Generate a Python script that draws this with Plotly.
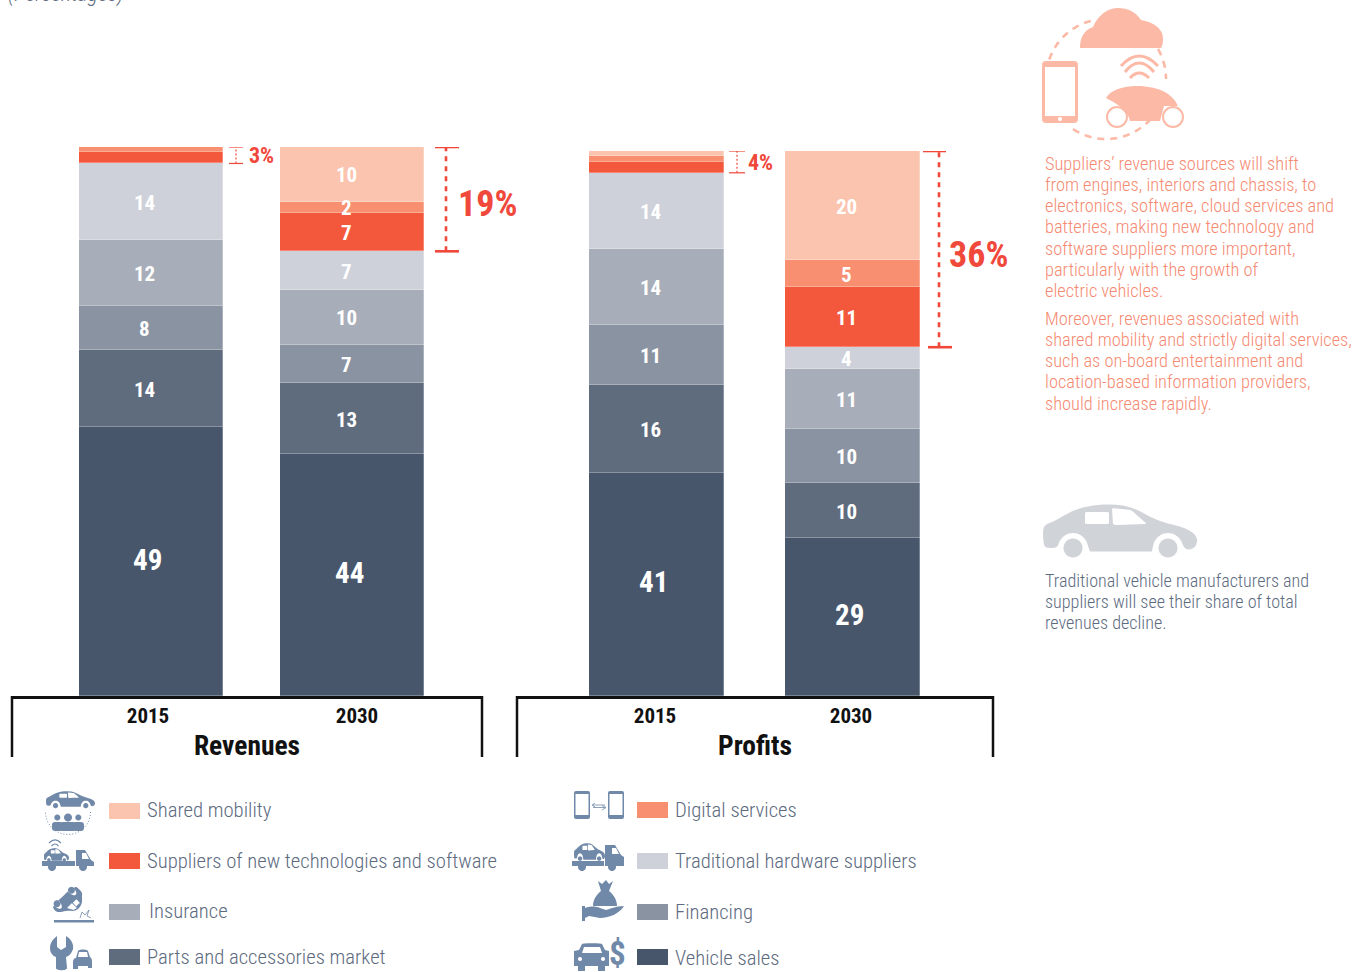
import math
import plotly.graph_objects as go

# Stack order runs from the bottom of each column to the top
CATEGORIES = ["Vehicle sales", "Parts and accessories market", "Financing", "Insurance",
              "Traditional hardware suppliers", "Suppliers of new technologies and software",
              "Digital services", "Shared mobility"]
COLORS = ["#47566b", "#5f6c7e", "#8a93a1", "#a8aeb9", "#ced1d9", "#f4583c", "#f78f70", "#fbc4ae"]
YEARS = ["2015", "2030"]
REVENUES_2015 = [49, 14, 8, 12, 14, 2, 1, 0]
REVENUES_2030 = [44, 13, 7, 10, 7, 7, 2, 10]
PROFITS_2015 = [41, 16, 11, 14, 14, 2, 1, 1]
PROFITS_2030 = [29, 10, 10, 11, 4, 11, 5, 20]

NOTE_SUPPLIERS = ["Suppliers\u2019 revenue sources will shift", "from engines, interiors and chassis, to",
                  "electronics, software, cloud services and", "batteries, making new technology and",
                  "software suppliers more important,", "particularly with the growth of", "electric vehicles."]
NOTE_SERVICES = ["Moreover, revenues associated with", "shared mobility and strictly digital services,",
                 "such as on-board entertainment and", "location-based information providers,",
                 "should increase rapidly."]
NOTE_TRADITIONAL = ["Traditional vehicle manufacturers and", "suppliers will see their share of total",
                    "revenues decline."]

W, H = 1361, 972
SANS = "Roboto Condensed"
BODY_WEIGHT = 300
RED = "#f0483a"
SALMON = "#f58a72"
ICON_PINK = "#fbb9a6"
ICON_BLUE = "#7189a9"
CAR_GRAY = "#d0d3d8"
LEGEND_TEXT = "#5d6b80"
AXIS_BLACK = "#111111"
NEW_SHARE = 3  # the three top categories form the "new" revenue pools


def dom_x(a, b):
    return [a / W, b / W]


def dom_y(top, bottom):
    return [1 - bottom / H, 1 - top / H]


fig = go.Figure()
panels = [
    dict(name="Revenues", x="x", y="y", values=[REVENUES_2015, REVENUES_2030], left=12, right=482,
         top=147, bottom=696, c0=151, step=201, bar=144, ticks=[148, 357], label_dx=[-7, -6]),
    dict(name="Profits", x="x2", y="y2", values=[PROFITS_2015, PROFITS_2030], left=517, right=993,
         top=151, bottom=696, c0=656.5, step=195.5, bar=135, ticks=[655, 851], label_dx=[-6, -6]),
]

annotations = []
shapes = []

for p in panels:
    for i, cat in enumerate(CATEGORIES):
        fig.add_trace(go.Bar(
            x=[0, 1], y=[p["values"][0][i], p["values"][1][i]], name=cat, xaxis=p["x"], yaxis=p["y"],
            width=p["bar"] / p["step"], marker=dict(color=COLORS[i], line=dict(color="rgba(255,255,255,0.45)", width=0.6)),
            showlegend=False, hoverinfo="name+y"))
    # Values printed inside each segment; the thin new-pool slivers of 2015 stay unlabelled
    for col, vals in enumerate(p["values"]):
        running = 0
        for i, v in enumerate(vals):
            if not (col == 0 and i >= len(vals) - NEW_SHARE):
                big = i == 0
                annotations.append(dict(
                    x=col, y=running + v / 2, xref=p["x"], yref=p["y"], text=str(v), showarrow=False,
                    xshift=p["label_dx"][col] + (3 if big else 0), yshift=2 if big else -1,
                    font=dict(family=SANS, size=29 if big else 21, color="white", weight=700)))
            running += v

fig.add_trace(go.Scatter(x=[], y=[], xaxis="x3", yaxis="y3", showlegend=False, hoverinfo="skip"))


def px_axis_ticks(p):
    return [(t - p["c0"]) / p["step"] for t in p["ticks"]]


layout_axes = {}
for p, sfx in zip(panels, ["", "2"]):
    layout_axes["xaxis" + sfx] = dict(
        domain=dom_x(p["left"], p["right"]),
        range=[(p["left"] - p["c0"]) / p["step"], (p["right"] - p["c0"]) / p["step"]],
        tickmode="array", tickvals=px_axis_ticks(p), ticktext=YEARS, ticks="",
        tickfont=dict(family=SANS, size=21, color=AXIS_BLACK, weight=700), ticklabelstandoff=-1,
        showline=True, linecolor=AXIS_BLACK, linewidth=2.5, showgrid=False, zeroline=False, fixedrange=True,
        title=dict(text=p["name"], font=dict(family=SANS, size=27.5, color=AXIS_BLACK, weight=700), standoff=9))
    layout_axes["yaxis" + sfx] = dict(
        domain=dom_y(p["top"], p["bottom"]), range=[0, 100], visible=False, fixedrange=True)
    # Open-bottomed frame under each panel
    for edge in (p["left"], p["right"]):
        shapes.append(dict(type="line", xref="x3", yref="y3", x0=edge, x1=edge, y0=696, y1=757,
                           line=dict(color=AXIS_BLACK, width=2.5)))

# Overlay in page pixels for notes, legend swatches and pictograms
layout_axes["xaxis3"] = dict(domain=[0, 1], range=[0, W], visible=False, fixedrange=True, anchor="y3")
layout_axes["yaxis3"] = dict(domain=[0, 1], range=[H, 0], visible=False, fixedrange=True, anchor="x3")


def text(x, y, s, size, color, weight=BODY_WEIGHT, anchor="left", style="normal"):
    annotations.append(dict(x=x, y=y, xref="x3", yref="y3", text=s, showarrow=False, xanchor=anchor, yanchor="middle",
                            font=dict(family=SANS, size=size, color=color, weight=weight, style=style)))


# Brackets spanning the new-pool share at the top of each column
brackets = [
    dict(p=panels[0], col=0, x=236, cap0=(229, 243), cap1=(229, 243), lw=1.2, size=22, tx=247, ty=155),
    dict(p=panels[0], col=1, x=446, cap0=(435, 459), cap1=(435, 459), lw=2.6, size=36, tx=455.5, ty=204),
    dict(p=panels[1], col=0, x=737, cap0=(729, 745), cap1=(729, 745), lw=1.2, size=22, tx=746, ty=162),
    dict(p=panels[1], col=1, x=939, cap0=(923, 946), cap1=(928, 952), lw=2.6, size=36, tx=947, ty=255),
]
for b in brackets:
    vals = b["p"]["values"][b["col"]]
    share = sum(vals[-NEW_SHARE:])
    lo = 100 - share
    yr = b["p"]["y"]
    shapes.append(dict(type="line", xref="x3", yref=yr, x0=b["x"], x1=b["x"], y0=lo, y1=100,
                       line=dict(color=RED, width=b["lw"], dash="5px,5px" if b["lw"] > 2 else "2px,2px")))
    shapes.append(dict(type="line", xref="x3", yref=yr, x0=b["cap0"][0], x1=b["cap0"][1], y0=100, y1=100,
                       line=dict(color=RED, width=b["lw"])))
    shapes.append(dict(type="line", xref="x3", yref=yr, x0=b["cap1"][0], x1=b["cap1"][1], y0=lo, y1=lo,
                       line=dict(color=RED, width=b["lw"])))
    text(b["tx"], b["ty"], f"{share}%", b["size"], RED, 700)

# Page notes; the units caption sits at the very top edge of the page
annotations.append(dict(x=6 / W, y=1 + 6 / H, xref="paper", yref="paper", text="(Percentages)", showarrow=False,
                        xanchor="left", yanchor="middle",
                        font=dict(family=SANS, size=22, color=LEGEND_TEXT, weight=BODY_WEIGHT, style="italic")))
for i, line in enumerate(NOTE_SUPPLIERS):
    text(1042.5, 163 + i * 21.33, line, 18.4, SALMON)
for i, line in enumerate(NOTE_SERVICES):
    text(1042.5, 318 + i * 21.25, line, 18.4, SALMON)
for i, line in enumerate(NOTE_TRADITIONAL):
    text(1042.5, 580 + i * 21, line, 18.1, LEGEND_TEXT)

# Legend: swatch and label per category
legend_rows = [
    ("Shared mobility", 109, 145, 811, 810), ("Suppliers of new technologies and software", 109, 145, 861, 861),
    ("Insurance", 109, 147, 912, 911), ("Parts and accessories market", 109, 145, 957, 957),
    ("Digital services", 637, 673, 810, 810), ("Traditional hardware suppliers", 637, 673, 861, 861),
    ("Financing", 637, 673, 912, 912), ("Vehicle sales", 637, 673, 957, 958),
]
for name, sx, tx, sy, ty in legend_rows:
    shapes.append(dict(type="rect", xref="x3", yref="y3", x0=sx, x1=sx + 31, y0=sy - 8, y1=sy + 8,
                       fillcolor=COLORS[CATEGORIES.index(name)], line=dict(width=0)))
    text(tx, ty, name, 20.7, LEGEND_TEXT)


# ---- pictogram helpers ----
def smooth(pts, close=True):
    """Quadratic spline through the midpoints of a point list."""
    n = len(pts)
    mid = lambda a, b: ((a[0] + b[0]) / 2, (a[1] + b[1]) / 2)
    start = mid(pts[-1], pts[0])
    out = f"M{start[0]:.2f},{start[1]:.2f}"
    for i in range(n):
        m = mid(pts[i], pts[(i + 1) % n])
        out += f" Q{pts[i][0]:.2f},{pts[i][1]:.2f} {m[0]:.2f},{m[1]:.2f}"
    return out + (" Z" if close else "")


def rounded(pts, t=0.18):
    """Extra points along each edge so the spline keeps straight sides and soft corners."""
    res = []
    for i, a in enumerate(pts):
        b = pts[(i + 1) % len(pts)]
        res.append(a)
        res.append((a[0] + (b[0] - a[0]) * t, a[1] + (b[1] - a[1]) * t))
        res.append((a[0] + (b[0] - a[0]) * (1 - t), a[1] + (b[1] - a[1]) * (1 - t)))
    return res


def poly(pts, close=True):
    out = " ".join(("M" if i == 0 else "L") + f"{x:.2f},{y:.2f}" for i, (x, y) in enumerate(pts))
    return out + (" Z" if close else "")


def arc_pts(cx, cy, r, a0, a1, n=28):
    return [(cx + r * math.cos(math.radians(a0 + (a1 - a0) * k / n)),
             cy + r * math.sin(math.radians(a0 + (a1 - a0) * k / n))) for k in range(n + 1)]


def disc(cx, cy, r):
    return poly(arc_pts(cx, cy, r, 0, 360, 32)[:-1])


def rrect(x0, y0, x1, y1, r):
    return (f"M{x0 + r},{y0} L{x1 - r},{y0} Q{x1},{y0} {x1},{y0 + r} L{x1},{y1 - r} Q{x1},{y1} {x1 - r},{y1} "
            f"L{x0 + r},{y1} Q{x0},{y1} {x0},{y1 - r} L{x0},{y0 + r} Q{x0},{y0} {x0 + r},{y0} Z")


def fill(path, color=ICON_BLUE):
    shapes.append(dict(type="path", xref="x3", yref="y3", path=path, fillcolor=color, line=dict(width=0), layer="above"))


def stroke(path, color=ICON_BLUE, width=1.5, dash=None):
    shapes.append(dict(type="path", xref="x3", yref="y3", path=path, fillcolor="rgba(0,0,0,0)",
                       line=dict(color=color, width=width, dash=dash or "solid"), layer="above"))


def ring(cx, cy, r, color, width):
    shapes.append(dict(type="circle", xref="x3", yref="y3", x0=cx - r, x1=cx + r, y0=cy - r, y1=cy + r,
                       fillcolor="white", line=dict(color=color, width=width), layer="above"))


# Side-view sedan outline in a 154 x 48 local box
def _arch(cx):
    return [(cx + 15.5 * math.cos(math.radians(a)), 44 + 15.5 * math.sin(math.radians(a)))
            for a in (0, -30, -60, -90, -120, -150, -180)]


SEDAN_OUTLINE = ([(0, 28), (1, 21), (12, 17), (30, 6), (50, 1), (70, 0), (90, 3), (114, 17), (144, 24), (155, 33), (153, 43),
                  (146, 46)] + _arch(125) + [(109, 47.5), (109, 47.5), (47, 47.5), (47, 47.5)] + _arch(30) + [(4, 44), (1, 42), (0, 33)])
SEDAN_WINDOW_A = [(42, 8), (66, 8), (66, 20), (42, 20)]
SEDAN_WINDOW_B = [(69, 4), (88, 6), (104, 20), (70, 21)]


def sedan(ox, oy, w, h, angle=0, wheel=9.5, windows=True):
    sx, sy = w / 154, h / 48
    rad = math.radians(angle)
    cx, cy = ox + w / 2, oy + h / 2

    def tf(pts):
        res = []
        for x, y in pts:
            dx, dy = x * sx - w / 2, y * sy - h / 2
            res.append((cx + dx * math.cos(rad) - dy * math.sin(rad), cy + dx * math.sin(rad) + dy * math.cos(rad)))
        return res

    path = smooth(tf(SEDAN_OUTLINE))
    if windows:
        path += " " + smooth(rounded(tf(SEDAN_WINDOW_A))) + " " + smooth(rounded(tf(SEDAN_WINDOW_B)))
    for hub in ((30, 44), (125, 44)):
        p = tf([hub])[0]
        path += " " + disc(p[0], p[1], wheel * (sx + sy) / 2)
    return path


def wifi(cx, cy, spans):
    for half, base, rise in spans:
        stroke(f"M{cx - half},{cy + base} Q{cx},{cy + base - 2 * rise} {cx + half},{cy + base}", ICON_BLUE, 1.2)


def tow_truck(x0, y0, car_w, car_h, bed_y, end, cab_x):
    fill(sedan(x0 + 2, y0, car_w, car_h, wheel=8))
    fill(poly([(x0, bed_y), (cab_x, bed_y), (cab_x, bed_y + 5), (x0, bed_y + 5)]))
    fill(poly([(cab_x + 1, y0 + 2), (end - 9, y0 + 2), (end - 3, y0 + 12), (end, y0 + 14), (end, bed_y + 5), (cab_x + 1, bed_y + 5)])
         + " " + poly([(end - 12, y0 + 5), (end - 8, y0 + 5), (end - 5, y0 + 11), (end - 12, y0 + 11)]))
    fill(disc(x0 + 10, bed_y + 6, 4))
    fill(disc(cab_x + 8, bed_y + 6, 4))


# Connected-car pictogram above the first note
fill("M1080,48 C1080,36 1085,30 1093,27 C1098,15 1108,8 1118,8 C1128,8 1136,12 1141,20 C1152,22 1164,28 1163,40 C1163,44 1162,46 1161,48 Z", ICON_PINK)
fill(rrect(1042, 61, 1078, 123, 4) + " " + poly([(1045, 67), (1075, 67), (1075, 116), (1045, 116)]) + " " + disc(1060, 119, 2), ICON_PINK)
stroke("M1121,66 Q1139,46 1158,66", ICON_PINK, 3)
stroke("M1125,72 Q1139,54 1154,72", ICON_PINK, 3)
stroke("M1130,78 Q1139,68 1149,78", ICON_PINK, 3)
fill("M1106,98 C1110,90 1124,86 1136,86 C1156,86 1172,92 1178,106 L1164,106 L1160,121 L1130,121 C1128,112 1122,106 1106,98 Z", ICON_PINK)
ring(1117, 117, 10, ICON_PINK, 2)
ring(1173, 117, 10, ICON_PINK, 2)
stroke(poly(arc_pts(1106, 79, 60, 199, 258), close=False), ICON_PINK, 2.6, "7px,6px")
stroke(poly(arc_pts(1106, 79, 60, -30, 0), close=False), ICON_PINK, 2.6, "7px,6px")
stroke(poly(arc_pts(1106, 79, 60, 42, 128), close=False), ICON_PINK, 2.6, "7px,6px")

# Conventional car beside the last note
fill(sedan(1043, 504, 154, 48), CAR_GRAY)

# Shared mobility: car above passengers
fill(sedan(46, 791, 49, 16, wheel=8))
for cx, r, bx0, bx1 in ((57.3, 3, 52, 63), (78.3, 3, 73, 84), (68, 4, 60, 76)):
    fill(disc(cx, 817.5, r))
    fill(rrect(bx0, 822, bx1, 831, 3))
stroke(poly(arc_pts(68, 812, 22.5, 0, 180), close=False), ICON_BLUE, 1, "1px,2px")

# New technology: connected car on a truck
wifi(55, 843, [(6, 0, 3), (3.5, 3, 2)])
tow_truck(42, 848, 25, 13, 861, 94, 75)

# Insurance: overturned car
fill(sedan(54, 893, 32, 20, angle=137, wheel=11, windows=True))
fill(poly([(54, 920), (94, 920), (94, 922.5), (54, 922.5)]))
stroke("M80,918 L82,912 L85,915 L89,910 L87,916 L91,918", ICON_BLUE, 0.8)

# Parts market: wrench and small car
fill("M57,936 L57,947 L61,950 L66,947 L66,936 C71,939 74,944 73,949 C72,953 69,956 66,957 L67,968 C67,971 56,971 56,968 L56,957 C53,956 50,953 50,948 C50,943 53,939 57,936 Z")
fill("M76,958 L78,951 C79,949 87,949 88,951 L90,957 C92,958 92,960 92,964 L92,968 L88,968 L88,966 L78,966 L78,969 L73,969 L73,962 C73,960 74,958 76,958 Z"
     + " " + poly([(79, 952), (87, 952), (88, 957), (78, 957)]))

# Digital services: two linked phones
for x0 in (574, 608):
    fill(rrect(x0, 791, x0 + 16, 819, 2) + " " + poly([(x0 + 1.5, 794), (x0 + 14.5, 794), (x0 + 14.5, 815), (x0 + 1.5, 815)]))
stroke("M593,805 L605,805 M595,803 L592,805 L595,807 M593,807.5 L605,807.5 M602,805.5 L606,807.5 L602,810", ICON_BLUE, 0.8)

# Hardware suppliers: car on a truck
tow_truck(572, 843, 31, 17, 861, 624, 604)

# Financing: money bag over an open hand
fill("M598,881 L602,884 L606,880 L609,884 L613,881 L609,891 C614,895 617,900 617,906 L593,906 C593,900 596,895 601,891 Z")
fill("M582,906 L585,906 L585,908 C590,906 596,906 600,908 L606,910 C610,909 616,906 624,906 C620,913 610,918 600,918 L589,916 L585,918 L585,921 L582,921 Z")

# Vehicle sales: car front and dollar sign
fill("M579,950 L582,944 C583,943 601,943 602,944 L605,950 L609,951 L609,966 L605,966 L605,971 L598,971 L598,966 L585,966 L585,971 L578,971 L578,966 L574,966 L574,951 Z "
     + poly([(584, 947), (600, 947), (602, 953), (582, 953)]) + " " + disc(580, 959, 2) + " " + disc(603, 959, 2))
text(617, 953, "$", 33, ICON_BLUE, 700, anchor="center")

fig.update_layout(
    width=W, height=H, margin=dict(l=0, r=0, t=0, b=0), barmode="stack", bargap=0,
    paper_bgcolor="white", plot_bgcolor="rgba(0,0,0,0)", showlegend=False,
    annotations=annotations, shapes=shapes, **layout_axes)

fig.write_html("out.html")
